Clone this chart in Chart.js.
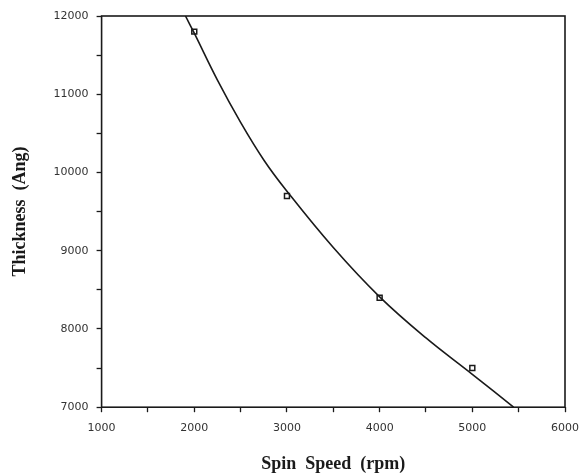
<!DOCTYPE html>
<html>
<head>
<meta charset="utf-8">
<script src="https://cdn.jsdelivr.net/npm/chart.js@4"></script>
<style>
  html, body { margin: 0; padding: 0; background: #fff; }
  #wrap { width: 583px; height: 475px; }
</style>
</head>
<body>
<div id="wrap"><canvas id="thicknessChart"></canvas></div>
<script>
// measured points
const spinSpeeds = [2000, 3000, 4000, 5000];
const thickness = [11800, 9700, 8400, 7500];

// fitted curve
const curveSpeeds = [1905, 2000, 2250, 2500, 2750, 3000, 3500, 4000, 4500, 5000, 5445];
const curveThickness = [12000, 11780, 11180, 10640, 10160, 9760, 9040, 8410, 7885, 7420, 7000];

const xLabels = [1000, 2000, 3000, 4000, 5000, 6000];
const yLabels = [7000, 8000, 9000, 10000, 11000, 12000];

const inkColor = '#1a1a1a';

const frameBox = {
    id: 'frameBox',
    afterDraw(chart) {
        const { ctx, chartArea } = chart;
        ctx.save();
        ctx.strokeStyle = inkColor;
        ctx.lineWidth = 1.6;
        ctx.strokeRect(chartArea.left, chartArea.top, chartArea.right - chartArea.left, chartArea.bottom - chartArea.top);
        ctx.restore();
    }
};

window.onload = () => {
    const ctx = document.getElementById('thicknessChart').getContext('2d');
    new Chart(ctx, {
        type: 'scatter',
        data: {
            datasets: [
                {
                    label: 'Fit',
                    data: curveSpeeds.map((s, i) => ({ x: s, y: curveThickness[i] })),
                    showLine: true,
                    borderColor: inkColor,
                    borderWidth: 1.6,
                    pointRadius: 0,
                    tension: 0.4,
                    fill: false,
                },
                {
                    label: 'Measured',
                    data: spinSpeeds.map((s, i) => ({ x: s, y: thickness[i] })),
                    pointStyle: 'rect',
                    pointRadius: 3.5,
                    borderColor: inkColor,
                    borderWidth: 1.5,
                    backgroundColor: '#fff',
                }
            ]
        },
        options: {
            responsive: true,
            maintainAspectRatio: false,
            animation: false,
            layout: {
                padding: { top: 16, right: 0, left: 10, bottom: 0 }
            },
            scales: {
                x: {
                    type: 'linear',
                    min: 1000,
                    max: 6000,
                    border: { display: false },
                    afterFit: (scale) => { scale.paddingRight = 18; },
                    grid: {
                        drawOnChartArea: false,
                        tickLength: 5,
                        tickColor: inkColor,
                        tickWidth: 1.3,
                    },
                    ticks: {
                        stepSize: 500,
                        autoSkip: false,
                        maxRotation: 0,
                        padding: 9,
                        color: '#333',
                        font: { family: 'DejaVu Sans', size: 11 },
                        callback: (v) => xLabels.includes(v) ? String(v) : '',
                    },
                    title: {
                        display: true,
                        text: 'Spin  Speed  (rpm)',
                        color: inkColor,
                        font: { family: 'Liberation Serif', size: 18, weight: 'bold' },
                        padding: { top: 10, bottom: 0 },
                    }
                },
                y: {
                    type: 'linear',
                    min: 7000,
                    max: 12000,
                    border: { display: false },
                    grid: {
                        drawOnChartArea: false,
                        tickLength: 5,
                        tickColor: inkColor,
                        tickWidth: 1.3,
                    },
                    ticks: {
                        stepSize: 500,
                        autoSkip: false,
                        padding: 8,
                        color: '#333',
                        font: { family: 'DejaVu Sans', size: 11 },
                        callback: (v) => yLabels.includes(v) ? String(v) : '',
                    },
                    title: {
                        display: true,
                        text: 'Thickness  (Ang)',
                        color: inkColor,
                        font: { family: 'Liberation Serif', size: 18, weight: 'bold' },
                        padding: { top: 0, bottom: 14 },
                    }
                }
            },
            plugins: {
                legend: { display: false },
                tooltip: { enabled: false }
            }
        },
        plugins: [frameBox]
    });
};
</script>
</body>
</html>
